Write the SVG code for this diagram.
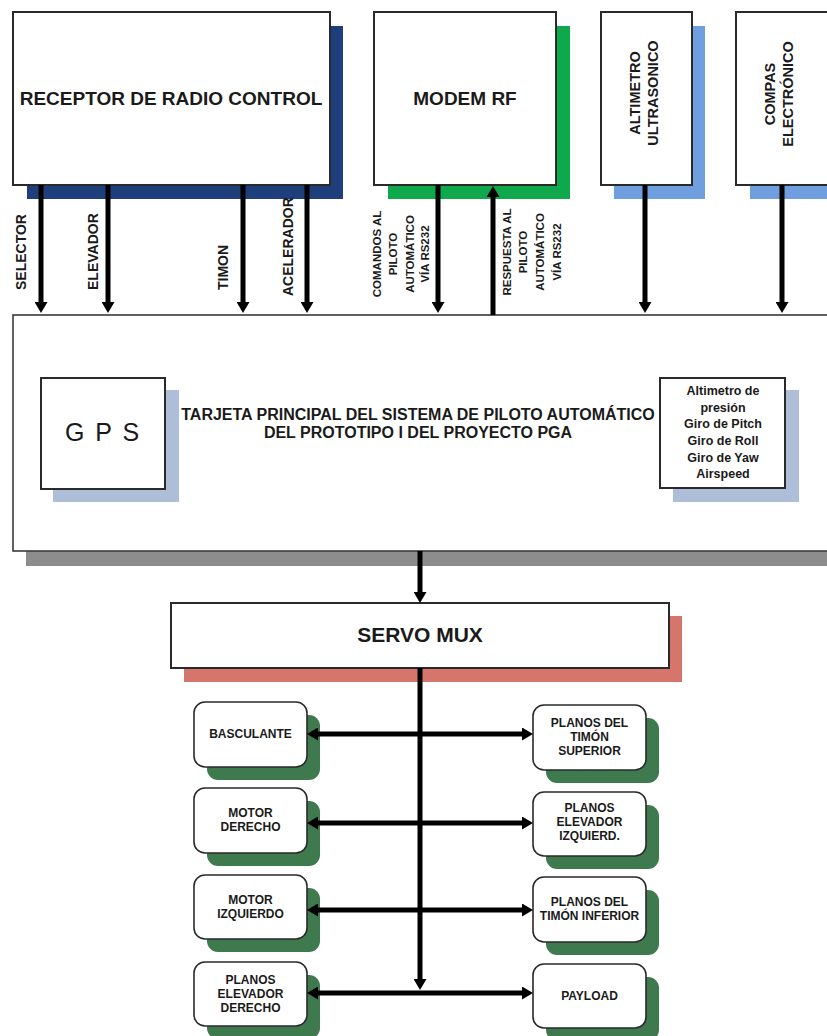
<svg xmlns="http://www.w3.org/2000/svg" width="827" height="1036" viewBox="0 0 827 1036">
<style>
.box{fill:#fff;stroke:#2a2a2a;stroke-width:2}
.rbox{fill:#fff;stroke:#2a2a2a;stroke-width:1.6}
.t{font-family:"Liberation Sans",Arial,sans-serif;font-weight:bold;fill:#1a1a1a}
.c{text-anchor:middle}
.ln{stroke:#000;stroke-width:5;fill:none}
.gsh{fill:#3e7a4e}
</style>
<defs>
<marker id="ah" viewBox="0 0 11 13" refX="4" refY="6.5" markerWidth="11" markerHeight="13" markerUnits="userSpaceOnUse" orient="auto-start-reverse">
<path d="M0,0 L11,6.5 L0,13 z" fill="#000"/>
</marker>
</defs>
<rect width="827" height="1036" fill="#fff"/>

<g id="receptor">
<rect x="27" y="26" width="316" height="173" fill="#1f3e7c"/>
<rect class="box" x="13" y="12" width="317" height="173"/>
<text class="t c" x="171" y="105" font-size="19">RECEPTOR DE RADIO CONTROL</text>
</g>

<g id="modem">
<rect x="388" y="26" width="182" height="173" fill="#10a84c"/>
<rect class="box" x="374" y="12" width="182" height="173"/>
<text class="t c" x="465" y="105" font-size="19">MODEM RF</text>
</g>

<g id="altimetro">
<rect x="614" y="26" width="91" height="173" fill="#6f9fdf"/>
<rect class="box" x="601" y="12" width="91" height="173"/>
<text class="t c" font-size="14.5" transform="translate(640,93) rotate(-90)">ALTIMETRO</text>
<text class="t c" font-size="14.5" transform="translate(658,93) rotate(-90)">ULTRASONICO</text>
</g>

<g id="compas">
<rect x="750" y="26" width="100" height="173" fill="#6f9fdf"/>
<rect class="box" x="736" y="12" width="100" height="173"/>
<text class="t c" font-size="14.5" transform="translate(775,94) rotate(-90)">COMPAS</text>
<text class="t c" font-size="14.5" transform="translate(793,94) rotate(-90)">ELECTRÓNICO</text>
</g>

<g id="tarjeta">
<rect x="26" y="328" width="810" height="238" fill="#8d8d8d"/>
<rect x="13" y="315" width="820" height="236" fill="#fff" stroke="#3a3a3a" stroke-width="1.6"/>
<text class="t c" x="418" y="420" font-size="16">TARJETA PRINCIPAL DEL SISTEMA DE PILOTO AUTOMÁTICO</text>
<text class="t c" x="418" y="438" font-size="16">DEL PROTOTIPO I DEL PROYECTO PGA</text>
</g>

<g id="gps">
<rect x="53" y="390" width="126" height="112" fill="#aebed9"/>
<rect class="box" x="41" y="378" width="124" height="111"/>
<text x="103" y="441" font-family="Liberation Sans,Arial,sans-serif" font-size="25" letter-spacing="2" text-anchor="middle" fill="#1a1a1a">G P S</text>
</g>

<g id="sensores">
<rect x="673" y="390" width="126" height="112" fill="#aebed9"/>
<rect class="box" x="660" y="378" width="125" height="110"/>
<text class="t c" x="723" y="395" font-size="12.5">Altimetro de</text>
<text class="t c" x="723" y="412" font-size="12.5">presión</text>
<text class="t c" x="723" y="428" font-size="12.5">Giro de Pitch</text>
<text class="t c" x="723" y="445" font-size="12.5">Giro de Roll</text>
<text class="t c" x="723" y="462" font-size="12.5">Giro de Yaw</text>
<text class="t c" x="723" y="478" font-size="12.5">Airspeed</text>
</g>

<g id="servomux">
<rect x="184" y="616" width="498" height="66" fill="#d6756c"/>
<rect class="box" x="171" y="603" width="498" height="65"/>
<text class="t c" x="420" y="642" font-size="21">SERVO MUX</text>
</g>

<g id="basculante">
<rect class="gsh" x="207" y="715" width="113" height="65" rx="11"/>
<rect class="rbox" x="194" y="702" width="113" height="65" rx="11"/>
<text class="t c" x="250.5" y="738" font-size="12">BASCULANTE</text>
</g>
<g id="motor-derecho">
<rect class="gsh" x="207" y="801" width="113" height="65" rx="11"/>
<rect class="rbox" x="194" y="788" width="113" height="65" rx="11"/>
<text class="t c" x="250.5" y="817" font-size="12">MOTOR</text>
<text class="t c" x="250.5" y="831" font-size="12">DERECHO</text>
</g>
<g id="motor-izquierdo">
<rect class="gsh" x="207" y="888" width="113" height="64" rx="11"/>
<rect class="rbox" x="194" y="875" width="113" height="64" rx="11"/>
<text class="t c" x="250.5" y="904" font-size="12">MOTOR</text>
<text class="t c" x="250.5" y="918" font-size="12">IZQUIERDO</text>
</g>
<g id="planos-elevador-derecho">
<rect class="gsh" x="207" y="975" width="113" height="64" rx="11"/>
<rect class="rbox" x="194" y="962" width="113" height="64" rx="11"/>
<text class="t c" x="250.5" y="984" font-size="12">PLANOS</text>
<text class="t c" x="250.5" y="998" font-size="12">ELEVADOR</text>
<text class="t c" x="250.5" y="1012" font-size="12">DERECHO</text>
</g>

<g id="planos-timon-superior">
<rect class="gsh" x="546" y="718" width="113" height="65" rx="11"/>
<rect class="rbox" x="533" y="705" width="113" height="65" rx="11"/>
<text class="t c" x="589.5" y="727" font-size="12">PLANOS DEL</text>
<text class="t c" x="589.5" y="741" font-size="12">TIMÓN</text>
<text class="t c" x="589.5" y="755" font-size="12">SUPERIOR</text>
</g>
<g id="planos-elevador-izquierdo">
<rect class="gsh" x="546" y="805" width="113" height="64" rx="11"/>
<rect class="rbox" x="533" y="792" width="113" height="64" rx="11"/>
<text class="t c" x="589.5" y="812" font-size="12">PLANOS</text>
<text class="t c" x="589.5" y="826" font-size="12">ELEVADOR</text>
<text class="t c" x="589.5" y="840" font-size="12">IZQUIERD.</text>
</g>
<g id="planos-timon-inferior">
<rect class="gsh" x="546" y="890" width="113" height="65" rx="11"/>
<rect class="rbox" x="533" y="877" width="113" height="65" rx="11"/>
<text class="t c" x="589.5" y="906" font-size="12">PLANOS DEL</text>
<text class="t c" x="589.5" y="920" font-size="12">TIMÓN INFERIOR</text>
</g>
<g id="payload">
<rect class="gsh" x="546" y="977" width="113" height="64" rx="11"/>
<rect class="rbox" x="533" y="964" width="113" height="64" rx="11"/>
<text class="t c" x="589.5" y="1000" font-size="12">PAYLOAD</text>
</g>

<g id="connectors">
<line class="ln" x1="41" y1="185" x2="41" y2="306" marker-end="url(#ah)"/>
<line class="ln" x1="108" y1="185" x2="108" y2="306" marker-end="url(#ah)"/>
<line class="ln" x1="243" y1="185" x2="243" y2="306" marker-end="url(#ah)"/>
<line class="ln" x1="307" y1="185" x2="307" y2="306" marker-end="url(#ah)"/>
<line class="ln" x1="438" y1="185" x2="438" y2="306" marker-end="url(#ah)"/>
<line class="ln" x1="493" y1="315" x2="493" y2="193" marker-end="url(#ah)"/>
<line class="ln" x1="645" y1="185" x2="645" y2="306" marker-end="url(#ah)"/>
<line class="ln" x1="782" y1="185" x2="782" y2="306" marker-end="url(#ah)"/>
<line class="ln" x1="420" y1="551" x2="420" y2="596" marker-end="url(#ah)"/>
<line class="ln" x1="314" y1="734" x2="526" y2="734" marker-start="url(#ah)" marker-end="url(#ah)"/>
<line class="ln" x1="314" y1="823" x2="526" y2="823" marker-start="url(#ah)" marker-end="url(#ah)"/>
<line class="ln" x1="314" y1="910" x2="526" y2="910" marker-start="url(#ah)" marker-end="url(#ah)"/>
<line class="ln" x1="314" y1="993" x2="526" y2="993" marker-start="url(#ah)" marker-end="url(#ah)"/>
<line class="ln" x1="420" y1="668" x2="420" y2="983" marker-end="url(#ah)"/>
<text class="t" font-size="14" transform="translate(26,290) rotate(-90)">SELECTOR</text>
<text class="t" font-size="14" transform="translate(98,290) rotate(-90)">ELEVADOR</text>
<text class="t" font-size="14" transform="translate(228,290) rotate(-90)">TIMON</text>
<text class="t" font-size="14" transform="translate(293,296) rotate(-90)">ACELERADOR</text>
<text class="t c" font-size="11.5" transform="translate(381,254) rotate(-90)">COMANDOS AL</text>
<text class="t c" font-size="11.5" transform="translate(397,254) rotate(-90)">PILOTO</text>
<text class="t c" font-size="11.5" transform="translate(414,254) rotate(-90)">AUTOMÁTICO</text>
<text class="t c" font-size="11.5" transform="translate(429,254) rotate(-90)">VÍA RS232</text>
<text class="t c" font-size="11.5" transform="translate(511,252) rotate(-90)">RESPUESTA AL</text>
<text class="t c" font-size="11.5" transform="translate(527,252) rotate(-90)">PILOTO</text>
<text class="t c" font-size="11.5" transform="translate(544,252) rotate(-90)">AUTOMÁTICO</text>
<text class="t c" font-size="11.5" transform="translate(561,252) rotate(-90)">VÍA RS232</text>
</g>
</svg>
